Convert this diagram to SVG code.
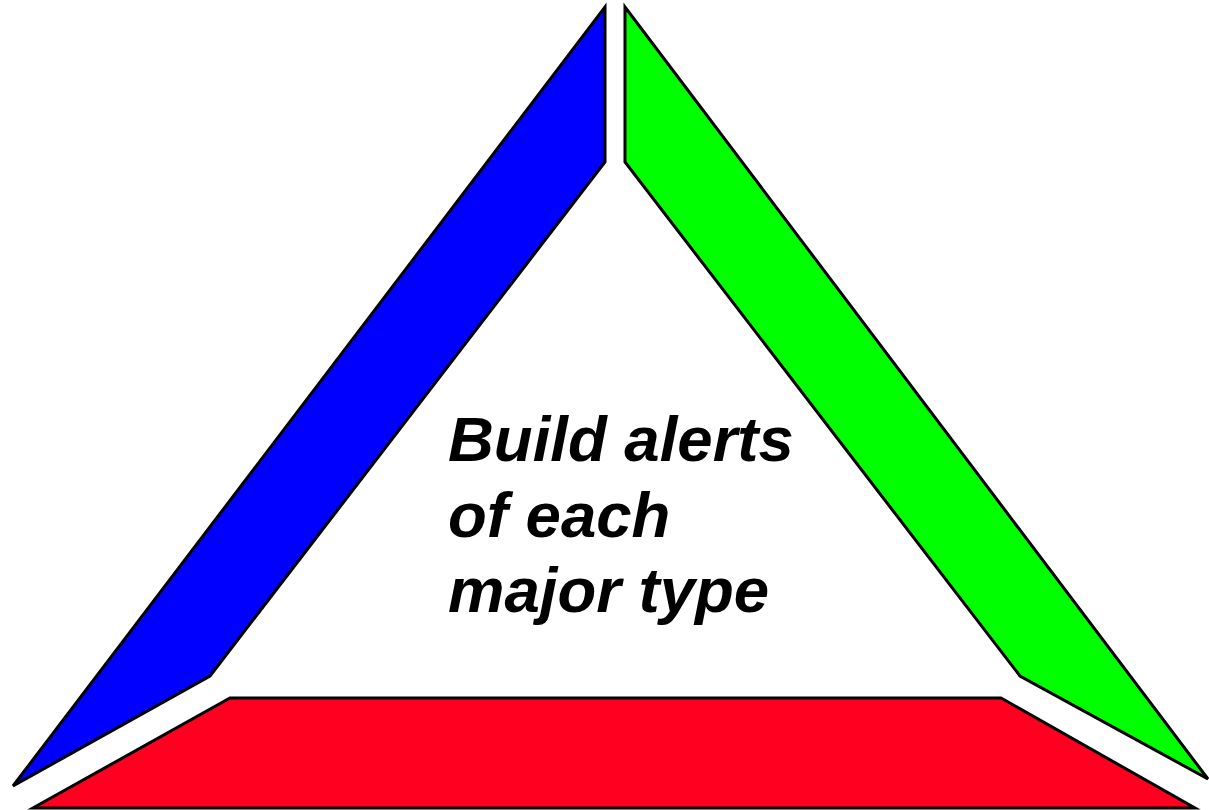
<svg xmlns="http://www.w3.org/2000/svg" width="1209" height="810" viewBox="0 0 1209 810">
<style>
.side{stroke:#000;stroke-width:3;stroke-linejoin:miter}
.lbl{font-family:"Liberation Sans",Arial,sans-serif;font-weight:bold;font-style:italic;font-size:63.5px;fill:#000}
</style>
<rect width="1209" height="810" fill="#fff"/>
<g id="blue-side"><polygon class="side" fill="#0000ff" points="605,7 605,162 210,676 13,786"/></g>
<g id="green-side"><polygon class="side" fill="#00ff00" points="625,7 625,162 1020,676 1208,779"/></g>
<g id="red-side"><polygon class="side" fill="#ff0020" points="230,698 1001,698 1195,808 33,808"/></g>
<g id="connectors"></g>
<g id="label">
<text class="lbl" x="448" y="461">Build alerts</text>
<text class="lbl" x="448" y="537">of each</text>
<text class="lbl" x="448" y="612">major type</text>
</g>
</svg>
